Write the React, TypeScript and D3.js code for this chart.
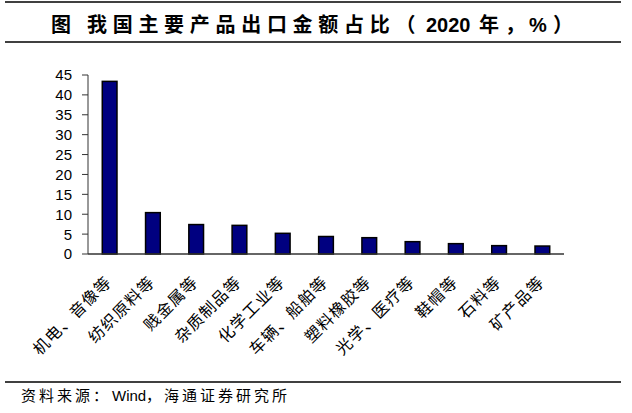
import React from "react";
import * as d3 from "d3";

const categories = [
  "机电、音像等",
  "纺织原料等",
  "贱金属等",
  "杂质制品等",
  "化学工业等",
  "车辆、船舶等",
  "塑料橡胶等",
  "光学、医疗等",
  "鞋帽等",
  "石料等",
  "矿产品等",
];
const values = [43.4, 10.4, 7.4, 7.2, 5.2, 4.4, 4.1, 3.1, 2.6, 2.1, 2.0];
const yTicks = [0, 5, 10, 15, 20, 25, 30, 35, 40, 45];
const titlePrefix = "图";
const titleMain = "我国主要产品出口金额占比（";
const titleYear = "2020";
const titleUnitA = "年";
const titleComma = "，";
const titlePct = "%";
const titleClose = "）";
const sourceA = "资料来源：";
const sourceB = "Wind";
const sourceC = "，海通证券研究所";

const W = 632;
const H = 413;
const X0 = 88;
const X1 = 564;
const Y0 = 254;
const Y1 = 75;

export default function App() {
  const x = d3
    .scaleBand<string>()
    .domain(categories)
    .range([X0, X1])
    .paddingInner(0.66)
    .paddingOuter(0.33);
  const y = d3.scaleLinear().domain([0, 45]).range([Y0, Y1]);
  const cjk = "'Noto Sans CJK SC', 'Liberation Sans', Arial, sans-serif";
  const latin = "'Liberation Sans', Arial, sans-serif";

  return (
    <svg
      width={W}
      height={H}
      style={{ position: "absolute", left: 0, top: 0, background: "#fff" }}
    >
      <rect x={0} y={0} width={W} height={H} fill="#fff" />
      {/* title rules */}
      <line x1={5} x2={621} y1={2} y2={2} stroke="#000" strokeWidth={1.5} />
      <line x1={5} x2={621} y1={42} y2={42} stroke="#000" strokeWidth={1.5} />
      <text y={32} fontFamily={cjk} fontWeight="bold" fontSize={20} fill="#000">
        <tspan x={51}>{titlePrefix}</tspan>
        <tspan x={87} letterSpacing={5.7}>{titleMain}</tspan>
        <tspan x={426} fontFamily={latin} fontSize={20}>{titleYear}</tspan>
        <tspan x={479}>{titleUnitA}</tspan>
        <tspan x={505}>{titleComma}</tspan>
        <tspan x={529} fontFamily={latin} fontSize={20}>{titlePct}</tspan>
        <tspan x={553}>{titleClose}</tspan>
      </text>

      {/* y axis */}
      <line x1={X0} x2={X0} y1={Y1} y2={Y0} stroke="#333" strokeWidth={1} />
      {yTicks.map((t) => (
        <g key={t}>
          <line x1={X0 - 6} x2={X0} y1={y(t)} y2={y(t)} stroke="#333" strokeWidth={1} />
          <text
            x={X0 - 16}
            y={y(t)}
            dy="0.36em"
            textAnchor="end"
            fontFamily={latin}
            fontSize={15}
            fill="#000"
          >
            {t}
          </text>
        </g>
      ))}

      {/* bars */}
      {categories.map((c, i) => (
        <rect
          key={c}
          x={x(c)!}
          y={y(values[i])}
          width={x.bandwidth()}
          height={Y0 - y(values[i])}
          fill="#000080"
          stroke="#000"
          strokeWidth={1.5}
        />
      ))}

      {/* x axis */}
      <line x1={X0} x2={X1} y1={Y0} y2={Y0} stroke="#333" strokeWidth={1.5} />

      {/* x labels */}
      {categories.map((c) => {
        const cx = x(c)! + x.bandwidth() / 2 + 3;
        return (
          <text
            key={c}
            transform={`translate(${cx},283) rotate(-45)`}
            textAnchor="end"
            fontFamily={cjk}
            fontSize={16}
            letterSpacing={1.2}
            fill="#000"
          >
            {c}
          </text>
        );
      })}

      {/* source */}
      <line x1={5} x2={621} y1={382} y2={382} stroke="#000" strokeWidth={1.5} />
      <text y={401} fontFamily={cjk} fontSize={15} fill="#000">
        <tspan x={21} letterSpacing={3}>{sourceA}</tspan>
        <tspan x={112} fontFamily={latin}>{sourceB}</tspan>
        <tspan x={146} letterSpacing={3}>{sourceC}</tspan>
      </text>
    </svg>
  );
}
